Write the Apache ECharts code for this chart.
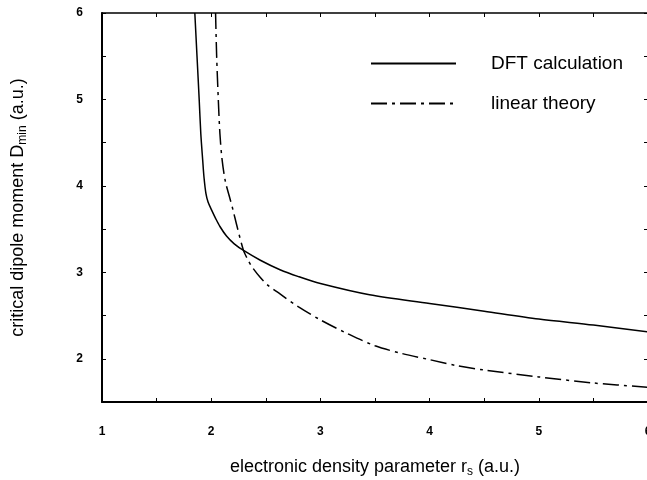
<!DOCTYPE html>
<html>
<head>
<meta charset="utf-8">
<script src="https://cdn.jsdelivr.net/npm/echarts@6/dist/echarts.min.js"></script>
<style>
  html, body { margin: 0; padding: 0; background: #fff; }
  #main { width: 647px; height: 480px; }
</style>
</head>
<body>
<div id="main"></div>
<script>
// values: r_s (a.u.) -> D_min (a.u.)
const dftR = [1.85, 1.87, 1.89, 1.905, 1.922, 1.934, 1.952, 1.972, 2.004, 2.04, 2.08, 2.14, 2.211, 2.3, 2.45, 2.63, 2.8, 3.0, 3.45, 4.0, 4.5, 5.0, 5.5, 6.0];
const dftD = [6.0, 5.5, 5.0, 4.6, 4.3, 4.1, 3.91, 3.81, 3.72, 3.625, 3.53, 3.42, 3.33, 3.25, 3.14, 3.03, 2.95, 2.87, 2.74, 2.64, 2.55, 2.46, 2.39, 2.31];
const linR = [2.04, 2.05, 2.065, 2.08, 2.1, 2.13, 2.166, 2.2, 2.233, 2.294, 2.33, 2.37, 2.45, 2.52, 2.63, 2.8, 3.0, 3.25, 3.5, 3.75, 4.0, 4.25, 4.5, 5.0, 5.5, 6.0];
const linD = [6.0, 5.5, 5.0, 4.6, 4.3, 4.05, 3.88, 3.72, 3.55, 3.26, 3.16, 3.07, 2.94, 2.85, 2.75, 2.6, 2.45, 2.29, 2.15, 2.06, 1.99, 1.92, 1.87, 1.79, 1.72, 1.67];
const seriesNames = ['DFT calculation', 'linear theory'];
const xTicks = [1, 6, 0.5];   // min, max, step
const yTicks = [1.5, 6, 0.5];

const font = '"Liberation Sans", Arial, sans-serif';
const pair = (xs, ys) => xs.map((x, i) => [x, ys[i]]);
const intOnly = v => (Math.abs(v - Math.round(v)) < 1e-6 ? String(Math.round(v)) : '');

const titleRich = {
  a: { fontSize: 18, fontFamily: font, color: '#000' },
  s: { fontSize: 12, fontFamily: font, color: '#000', padding: [9, 0, 0, 0] }
};

const chart = echarts.init(document.getElementById('main'));
chart.setOption({
  animation: false,
  backgroundColor: '#fff',
  grid: { left: 102, top: 13, right: -1, bottom: 78, outerBoundsMode: 'none', containLabel: false },
  legend: {
    orient: 'vertical',
    left: 365,
    top: 49,
    itemWidth: 85,
    itemHeight: 14,
    itemGap: 21,
    itemStyle: { opacity: 0 },
    textStyle: { fontSize: 19, fontFamily: font, color: '#000', padding: [0, 0, 0, 30] },
    data: seriesNames
  },
  xAxis: [{
    type: 'value', min: xTicks[0], max: xTicks[1], interval: xTicks[2],
    name: '{a|electronic density parameter r}{s|s}{a| (a.u.)}',
    nameLocation: 'middle', nameGap: 55,
    nameTextStyle: { rich: titleRich },
    axisLine: { lineStyle: { color: '#000', width: 2 } },
    axisTick: { inside: true, length: 4, lineStyle: { color: '#000', width: 1 } },
    axisLabel: { formatter: intOnly, margin: 24, fontSize: 12, fontWeight: 'bold', fontFamily: font, color: '#000' },
    splitLine: { show: false }
  }, {
    type: 'value', position: 'top', min: xTicks[0], max: xTicks[1], interval: xTicks[2],
    axisLine: { lineStyle: { color: '#000', width: 1.5 } },
    axisTick: { inside: true, length: 4, lineStyle: { color: '#000', width: 1 } },
    axisLabel: { show: false },
    splitLine: { show: false }
  }],
  yAxis: [{
    type: 'value', min: yTicks[0], max: yTicks[1], interval: yTicks[2],
    name: '{a|critical dipole moment D}{s|min}{a| (a.u.)}',
    nameLocation: 'middle', nameGap: 73, nameRotate: 90,
    nameTextStyle: { rich: titleRich },
    axisLine: { lineStyle: { color: '#000', width: 2 } },
    axisTick: { inside: true, length: 4, lineStyle: { color: '#000', width: 1 } },
    axisLabel: { formatter: intOnly, margin: 19, fontSize: 12, fontWeight: 'bold', fontFamily: font, color: '#000' },
    splitLine: { show: false }
  }, {
    type: 'value', position: 'right', min: yTicks[0], max: yTicks[1], interval: yTicks[2],
    axisLine: { lineStyle: { color: '#000', width: 1.5 } },
    axisTick: { inside: true, length: 4, lineStyle: { color: '#000', width: 1 } },
    axisLabel: { show: false },
    splitLine: { show: false }
  }],
  series: [{
    name: seriesNames[0], type: 'line', smooth: 0.3, showSymbol: false, symbol: 'none',
    data: pair(dftR, dftD),
    lineStyle: { color: '#000', width: 1.5, type: 'solid' },
    itemStyle: { color: '#000' }
  }, {
    name: seriesNames[1], type: 'line', smooth: 0.3, showSymbol: false, symbol: 'none',
    data: pair(linR, linD),
    lineStyle: { color: '#000', width: 1.5, type: [16, 5, 3, 5] },
    itemStyle: { color: '#000' }
  }]
});
</script>
</body>
</html>
